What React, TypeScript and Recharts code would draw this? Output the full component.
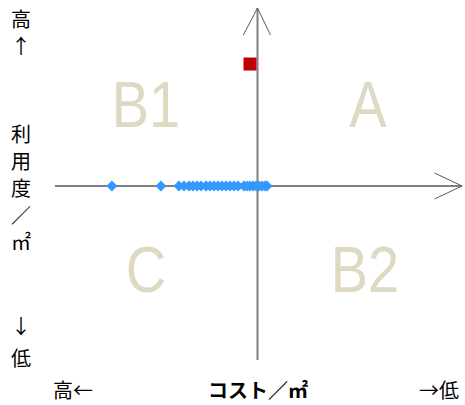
import React from 'react';
import { ScatterChart, Scatter, XAxis, YAxis, ReferenceLine } from 'recharts';

// Cost per m² (positive = low cost, right), utilisation per m² (positive = high, up)
const blueCost = [
  -0.719, -0.477, -0.388, -0.363, -0.338, -0.319, -0.299, -0.279, -0.254, -0.235,
  -0.215, -0.195, -0.175, -0.156, -0.136, -0.116, -0.096, -0.067, -0.052, -0.037,
  -0.022, -0.007, 0.007, 0.022, 0.037, 0.047,
];
const blueUse = blueCost.map(() => 0);
const redCost = [-0.037];
const redUse = [0.693];

const quadrantLabels = ['A', 'B1', 'C', 'B2'];
const leftTop = ['高', '↑'];
const leftMid = ['利', '用', '度', '／', '㎡'];
const leftBottom = ['↓', '低'];
const bottomLabels = ['高←', 'コスト／㎡', '→低'];

const blueData = blueCost.map((x, i) => ({ x, y: blueUse[i] }));
const redData = redCost.map((x, i) => ({ x, y: redUse[i] }));

const Diamond = (props: any) => {
  const { cx, cy } = props;
  if (cx == null || cy == null) return null;
  const r = 5.5;
  return (
    <polygon
      points={`${cx},${cy - r} ${cx + r},${cy} ${cx},${cy + r} ${cx - r},${cy}`}
      fill="#3399FF"
    />
  );
};

const Square = (props: any) => {
  const { cx, cy } = props;
  if (cx == null || cy == null) return null;
  const s = 6.5;
  return <rect x={cx - s} y={cy - s} width={2 * s} height={2 * s} fill="#C00000" />;
};

const jp = '"Noto Sans CJK JP", "Noto Sans", sans-serif';
const latin = '"Liberation Sans", Arial, sans-serif';

const QLabel = ({ x, y, text }: { x: number; y: number; text: string }) => (
  <text
    x={0}
    y={0}
    transform={`translate(${x},${y}) scale(1,1.15)`}
    textAnchor="middle"
    fontSize={56}
    fontFamily={latin}
    fill="#DDD9C3"
  >
    {text}
  </text>
);

const Stack = ({ x, y, step, chars }: { x: number; y: number; step: number; chars: string[] }) => (
  <text x={x} y={y} textAnchor="middle">
    {chars.map((c, i) => (
      <tspan key={i} x={x} dy={i === 0 ? 0 : step}>
        {c}
      </tspan>
    ))}
  </text>
);

export default function App() {
  const axisGray = '#808080';
  const arrowGray = '#595959';
  return (
    <div style={{ position: 'absolute', left: 0, top: 0, background: '#fff' }}>
      <ScatterChart width={465} height={405} margin={{ top: 10, right: 5, bottom: 43, left: 55 }}>
        <XAxis type="number" dataKey="x" domain={[-1, 1]} hide />
        <YAxis type="number" dataKey="y" domain={[-1, 1]} hide />
        <QLabel x={368} y={127} text={quadrantLabels[0]} />
        <QLabel x={146} y={127} text={quadrantLabels[1]} />
        <QLabel x={146} y={292} text={quadrantLabels[2]} />
        <QLabel x={365} y={292} text={quadrantLabels[3]} />
        <ReferenceLine
          segment={[{ x: -1, y: 0 }, { x: 1.01, y: 0 }]}
          stroke={axisGray}
          strokeWidth={2}
          ifOverflow="visible"
        />
        <ReferenceLine
          segment={[{ x: 0, y: -0.989 }, { x: 0, y: 1.011 }]}
          stroke={axisGray}
          strokeWidth={2}
          ifOverflow="visible"
        />
        <ReferenceLine segment={[{ x: 0.874, y: 0.074 }, { x: 1.01, y: 0 }]} stroke={arrowGray} strokeWidth={1} ifOverflow="visible" />
        <ReferenceLine segment={[{ x: 0.874, y: -0.074 }, { x: 1.01, y: 0 }]} stroke={arrowGray} strokeWidth={1} ifOverflow="visible" />
        <ReferenceLine segment={[{ x: -0.07, y: 0.858 }, { x: 0, y: 1.011 }]} stroke={arrowGray} strokeWidth={1} ifOverflow="visible" />
        <ReferenceLine segment={[{ x: 0.064, y: 0.858 }, { x: 0, y: 1.011 }]} stroke={arrowGray} strokeWidth={1} ifOverflow="visible" />
        <Scatter data={blueData} shape={<Diamond />} isAnimationActive={false} />
        <Scatter data={redData} shape={<Square />} isAnimationActive={false} />
        <g fontFamily={jp} fontSize={20} fill="#000">
          <Stack x={21} y={27} step={27} chars={leftTop} />
          <Stack x={21} y={142} step={27} chars={leftMid} />
          <Stack x={21} y={334} step={32} chars={leftBottom} />
          <text x={73} y={398} textAnchor="middle">{bottomLabels[0]}</text>
          <text x={258} y={398} textAnchor="middle" fontWeight="bold">{bottomLabels[1]}</text>
          <text x={439} y={398} textAnchor="middle">{bottomLabels[2]}</text>
        </g>
      </ScatterChart>
    </div>
  );
}
